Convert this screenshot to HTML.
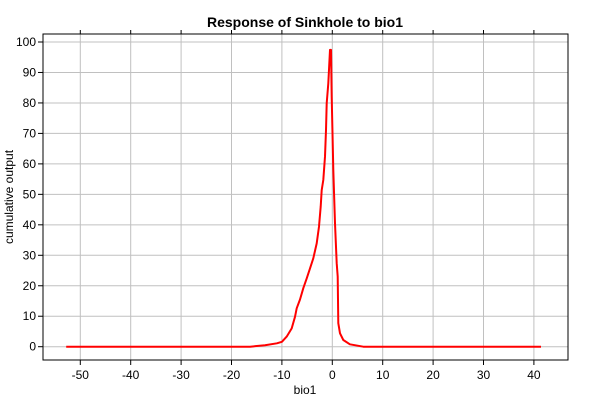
<!DOCTYPE html>
<html><head><meta charset="utf-8"><style>
body{margin:0;background:#fff;}
svg{display:block;font-family:"Liberation Sans",sans-serif;}
</style></head><body>
<svg id="chart" width="600" height="400">
<text x="305" y="27" text-anchor="middle" font-size="14" font-weight="bold">Response of Sinkhole to bio1</text>
<text x="305" y="394" text-anchor="middle" font-size="12">bio1</text>
<text transform="translate(13,197) rotate(-90)" text-anchor="middle" font-size="12">cumulative output</text>
<g id="grid"></g><g id="axes"></g><g id="series"></g>
<rect x="43" y="34" width="525" height="326" fill="none" stroke="#000" stroke-width="1"/>
</svg>
<script>
const xTicks=[-50,-40,-30,-20,-10,0,10,20,30,40];
const yTicks=[0,10,20,30,40,50,60,70,80,90,100];
const xVals=[-52.8,-16.3,-13.35,-11.0,-10.0,-9.05,-8.06,-7.4,-7.06,-6.4,-5.75,-5.08,-4.42,-3.77,-3.1,-2.64,-2.3,-2.1,-1.78,-1.45,-1.25,-1.11,-0.79,-0.46,-0.26,-0.12,0.2,0.54,0.87,1.07,1.19,1.53,2.18,3.5,6.15,41.4];
const yVals=[0,0,0.5,1.1,1.6,3.3,6.0,9.8,12.6,15.5,19.2,22.4,25.7,29.0,33.9,39.4,46,51.4,54.7,62.4,71.1,79.9,86.4,97.4,97.4,82,58,40.5,27.4,23,7.7,4.4,2.2,0.8,0,0];
const NS="http://www.w3.org/2000/svg";
const sx=v=>332.3+v*5.04;
const sy=v=>346.7-v*3.047;
const grid=document.getElementById('grid'),axes=document.getElementById('axes'),series=document.getElementById('series');
function mk(tag,attrs,parent){const e=document.createElementNS(NS,tag);for(const k in attrs)e.setAttribute(k,attrs[k]);parent.appendChild(e);return e;}
xTicks.forEach(t=>{
  const g=mk('line',{x1:sx(t),x2:sx(t),y1:34,y2:360,stroke:'#c0c0c0','stroke-width':1},grid);
  
  
  const tk=mk('line',{x1:sx(t),x2:sx(t),y1:360,y2:365,stroke:'#000'},axes);
  
  
  const tt=mk('line',{x1:sx(t),x2:sx(t),y1:30,y2:34,stroke:'#000'},axes);
  
  
  const l=mk('text',{x:sx(t),y:379,'text-anchor':'middle','font-size':12},axes);
  l.textContent=t;
  
  
});
yTicks.forEach(t=>{
  const g=mk('line',{x1:43,x2:568,y1:sy(t),y2:sy(t),stroke:'#c0c0c0','stroke-width':1},grid);
  
  
  const tk=mk('line',{x1:38,x2:43,y1:sy(t),y2:sy(t),stroke:'#000'},axes);
  
  
  const l=mk('text',{x:36,y:sy(t)+4,'text-anchor':'end','font-size':12},axes);
  l.textContent=t;
  
  
});
const pts=xVals.map((x,i)=>sx(x).toFixed(1)+','+sy(yVals[i]).toFixed(1)).join(' ');
const line=mk('polyline',{points:pts,fill:'none',stroke:'#ff0000','stroke-width':2,'stroke-linejoin':'round'},series);


</script>
</body></html>
